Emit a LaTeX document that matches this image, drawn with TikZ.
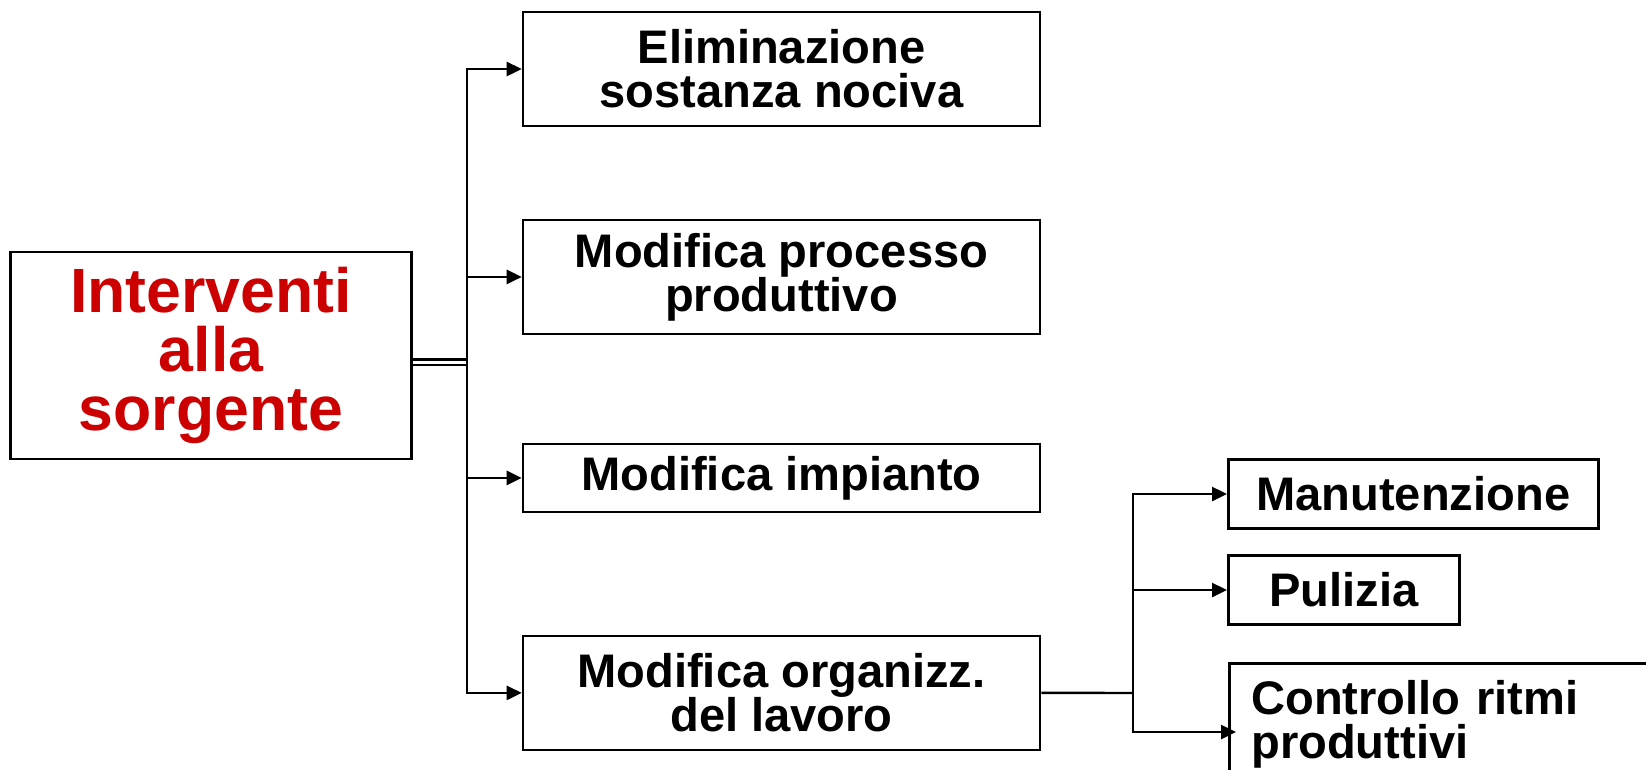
\documentclass[tikz,border=0pt]{standalone}
\usepackage{fontspec}
\setmainfont{Liberation Sans}
\usetikzlibrary{arrows.meta,positioning}
\definecolor{srcred}{RGB}{204,0,0}
\setlength{\lineskiplimit}{-\maxdimen}

\begin{document}
\begin{tikzpicture}[x=0.02cm,y=-0.02cm,on grid,
	box/.style={draw,line width=1.5pt,inner sep=0pt,align=center,
		font=\fontsize{26.8}{25}\selectfont\bfseries},
	conn/.style={line width=1.4pt,-{Triangle[length=0.3cm,width=0.28cm]}}]
	\useasboundingbox (0,0) rectangle (1646,769);
	\clip (0,0) rectangle (1646,769);
	\node[box,minimum width=8.02cm,minimum height=4.14cm,text=srcred,
		font=\fontsize{35.6}{33.5}\selectfont\bfseries] (src) at (211,355.5) {Interventi\\alla\\sorgente};
	\node[box,minimum width=10.34cm,minimum height=2.28cm] (e1) at (781.5,69) {Eliminazione\\sostanza nociva};
	\node[box,minimum width=10.34cm,minimum height=2.28cm] (e2) [below=4.16cm of e1] {Modifica processo\\produttivo};
	\node[box,minimum width=10.34cm,minimum height=1.36cm] (e3) [below=4.02cm of e2] {Modifica impianto};
	\node[box,minimum width=10.34cm,minimum height=2.28cm] (e4) [below=4.3cm of e3] {Modifica organizz.\\del lavoro};
	\node[box,anchor=west,minimum width=7.4cm,minimum height=1.38cm] (s1) at (1227,494) {Manutenzione};
	\node[box,anchor=west,minimum width=4.62cm,minimum height=1.38cm] (s2) at (1227,590) {Pulizia};
	\node[box,anchor=north west,align=left,text width=8cm,inner xsep=0.44cm,inner ysep=0.34cm] (s3) at (1228,662) {Controllo ritmi\\produttivi};
	% junctions
	\coordinate (j) at (467,362);
	\coordinate (k) at (1133,693);
	\coordinate (s3in) at (1236,732);
	\draw[double,line width=0.05cm,double distance=0.06cm] (src.east |- j) -- (j);
	\foreach \n in {e1,e2,e3,e4}
		\draw[conn] (j) |- (\n.west);
	\draw[line width=1.4pt] (e4.east) -- (k);
	\foreach \n in {s1,s2,s3in}
		\draw[conn] (k) |- (\n);
\end{tikzpicture}
\end{document}
